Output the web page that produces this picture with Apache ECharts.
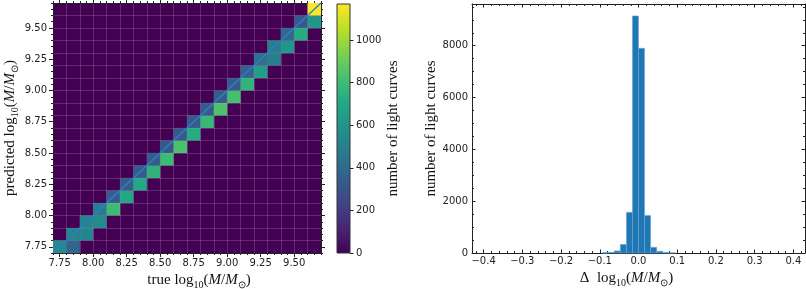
<!DOCTYPE html>
<html><head><meta charset="utf-8">
<script src="https://cdn.jsdelivr.net/npm/echarts@6/dist/echarts.min.js"></script>
<style>html,body{margin:0;padding:0;background:#fff;}#c{width:806px;height:289px;}</style>
</head><body><div id="c"></div>
<script>
// ---------- data ----------
const cellTrue = [7.7,7.8, 7.8,7.9, 7.9,8.0, 8.0,8.1, 8.1,8.2, 8.2,8.3, 8.3,8.4, 8.4,8.5, 8.5,8.6, 8.6,8.7,
                  8.7,8.8, 8.8,8.9, 8.9,9.0, 9.0,9.1, 9.1,9.2, 9.2,9.3, 9.3,9.4, 9.4,9.5, 9.5,9.6, 9.6];
const cellPred = [7.7,7.7, 7.8,7.8, 7.9,7.9, 8.0,8.0, 8.1,8.1, 8.2,8.2, 8.3,8.3, 8.4,8.4, 8.5,8.5, 8.6,8.6,
                  8.7,8.7, 8.8,8.8, 8.9,8.9, 9.0,9.0, 9.1,9.1, 9.2,9.2, 9.3,9.3, 9.4,9.4, 9.5,9.5, 9.6];
const cellCount = [550,390, 530,530, 520,550, 490,800, 340,700, 340,700, 330,750, 330,800, 320,830, 320,720,
                   330,780, 330,840, 330,820, 340,760, 360,650, 430,490, 490,610, 390,720, 320,610, 1170];
const cellSize = 0.1;
const heatMin = 7.7, heatMax = 9.7;
const heatTicks = [7.75, 8.00, 8.25, 8.50, 8.75, 9.00, 9.25, 9.50];
const diagLine = [[7.7, 7.7], [9.7, 9.7]];
const colorbarMax = 1170;
const colorbarTicks = [0, 200, 400, 600, 800, 1000];
const histCenters = [-0.0859, -0.0703, -0.0547, -0.0391, -0.0234, -0.0078, 0.0078, 0.0234, 0.0391, 0.0547, 0.0703, 0.0859];
const histCounts  = [10, 25, 80, 330, 1570, 9150, 7900, 1445, 220, 65, 20, 8];
const histBinWidth = 0.0156;
const histXMin = -0.43, histXMax = 0.43, histYMax = 9610;
const histXTicks = [-0.4, -0.3, -0.2, -0.1, 0.0, 0.1, 0.2, 0.3, 0.4];
const histYTicks = [0, 2000, 4000, 6000, 8000];

// ---------- styling / helpers ----------
const viridis = ['#440154','#482475','#414487','#355f8d','#2a788e','#21918c','#22a884','#44bf70','#7ad151','#bddf26','#fde725'];
const axisColor = '#222';
const tickFont = {fontFamily:'DejaVu Sans', fontSize:10, color:'#222'};
const nameRich = {
  r:{fontFamily:'Liberation Serif', fontSize:15, color:'#111', lineHeight:20, verticalAlign:'middle'},
  i:{fontFamily:'Liberation Serif', fontStyle:'italic', fontSize:15, color:'#111', lineHeight:20, verticalAlign:'middle'},
  s:{fontFamily:'Liberation Serif', fontSize:10, color:'#111', lineHeight:10, verticalAlign:'bottom'}
};
const plainName = {fontFamily:'Liberation Serif', fontSize:15, color:'#111'};

function r2(v){ return Math.round(v*1000)/1000; }
const heatMinor = [], heatEdges = [];
for (let k = 0; k <= 40; k++) { const v = r2(heatMin + 0.05*k); if (!heatTicks.some(t => Math.abs(t-v) < 1e-6)) heatMinor.push(v); }
for (let k = 0; k <= 20; k++) heatEdges.push(r2(heatMin + 0.1*k));
const histXMinor = [];
for (let k = -21; k <= 21; k++) { const v = r2(0.02*k); if (!histXTicks.some(t => Math.abs(t-v) < 1e-6)) histXMinor.push(v); }
const histYMinor = [];
for (let v = 500; v < histYMax; v += 500) if (!histYTicks.includes(v)) histYMinor.push(v);

function ax(o) {
  const a = {
    type:'value', gridIndex:o.grid, min:o.min, max:o.max, position:o.pos,
    axisLine:{show:!!o.line, onZero:false, lineStyle:{color:axisColor, width:1}},
    axisTick:{show:o.ticks !== undefined && !o.hideTicks, inside:!!o.inside, length:o.len || 3.5, customValues:o.ticks,
              lineStyle:{color:axisColor, width:1}},
    axisLabel:{show:!!o.labels, margin:o.margin, formatter:o.fmt, ...tickFont},
    splitLine:{show:!!o.split, customValues:o.split ? o.ticks : undefined, lineStyle:{color:'rgba(255,255,255,0.16)', width:1}},
    minorTick:{show:false}, minorSplitLine:{show:false}
  };
  if (o.labels) a.axisLabel.customValues = o.ticks;
  if (o.show === false) a.show = false;
  if (o.name) {
    a.name = o.name; a.nameLocation = 'middle'; a.nameGap = o.nameGap;
    if (o.nameRotate !== undefined) a.nameRotate = o.nameRotate;
    a.nameTextStyle = o.rich ? {rich:nameRich, padding:o.namePadding || 0} : Object.assign({padding:o.namePadding || 0}, plainName);
  }
  return a;
}
const massName = pre => '{r|' + pre + 'log}{s|10}{r|(}{i|M}{r|/}{i|M}{s|⊙}{r|)}';
const fmt2 = v => Number(v).toFixed(2);
const fmtHistX = v => (v < -1e-9 ? '\u2212' : '') + Math.abs(v).toFixed(1);

const xAxes = [
  ax({grid:0, min:heatMin, max:heatMax, pos:'bottom', line:true, ticks:heatTicks, len:4, labels:true, fmt:fmt2, margin:5,
      name:massName('true '), rich:true, nameGap:13, namePadding:[0,0,0,24]}),
  ax({grid:0, min:heatMin, max:heatMax, pos:'bottom', ticks:heatMinor, len:2}),
  ax({grid:0, min:heatMin, max:heatMax, pos:'top', line:true, ticks:heatTicks, len:4}),
  ax({grid:0, min:heatMin, max:heatMax, pos:'top', ticks:heatMinor, len:2}),
  ax({grid:0, min:heatMin, max:heatMax, pos:'bottom', ticks:heatEdges, hideTicks:true, split:true}),
  ax({grid:1, min:0, max:1, pos:'bottom', show:false}),
  ax({grid:2, min:histXMin, max:histXMax, pos:'bottom', line:true, ticks:histXTicks, inside:true, len:3.5, labels:true, fmt:fmtHistX, margin:3,
      name:massName('Δ  '), rich:true, nameGap:13, namePadding:[0,24,0,0]}),
  ax({grid:2, min:histXMin, max:histXMax, pos:'bottom', ticks:histXMinor, inside:true, len:2}),
  ax({grid:2, min:histXMin, max:histXMax, pos:'top', line:true, ticks:histXTicks, inside:true, len:3.5}),
  ax({grid:2, min:histXMin, max:histXMax, pos:'top', ticks:histXMinor, inside:true, len:2})
];
const yAxes = [
  ax({grid:0, min:heatMin, max:heatMax, pos:'left', line:true, ticks:heatTicks, len:4, labels:true, fmt:fmt2, margin:6,
      name:massName('predicted '), rich:true, nameGap:33, nameRotate:90}),
  ax({grid:0, min:heatMin, max:heatMax, pos:'left', ticks:heatMinor, len:2}),
  ax({grid:0, min:heatMin, max:heatMax, pos:'right', line:true, ticks:heatTicks, len:4}),
  ax({grid:0, min:heatMin, max:heatMax, pos:'right', ticks:heatMinor, len:2}),
  ax({grid:0, min:heatMin, max:heatMax, pos:'left', ticks:heatEdges, hideTicks:true, split:true}),
  ax({grid:1, min:0, max:colorbarMax, pos:'right', ticks:colorbarTicks, len:3.5, labels:true, fmt:v => String(v), margin:6,
      name:'number of light curves', nameGap:20, nameRotate:90}),
  ax({grid:2, min:0, max:histYMax, pos:'left', line:true, ticks:histYTicks, inside:true, len:3.5, labels:true, fmt:v => String(v), margin:4,
      name:'number of light curves', nameGap:28, nameRotate:90}),
  ax({grid:2, min:0, max:histYMax, pos:'left', ticks:histYMinor, inside:true, len:2}),
  ax({grid:2, min:0, max:histYMax, pos:'right', line:true, ticks:histYTicks, inside:true, len:3.5}),
  ax({grid:2, min:0, max:histYMax, pos:'right', ticks:histYMinor, inside:true, len:2})
];

const chart = echarts.init(document.getElementById('c'), null, {renderer:'canvas'});
chart.setOption({
  animation:false,
  backgroundColor:'#fff',
  grid:[
    {left:53, top:3, width:268, height:250, show:true, backgroundColor:'#440154', borderWidth:0, containLabel:false, outerBoundsMode:'none'},
    {left:337, top:4, width:13, height:249, containLabel:false, outerBoundsMode:'none'},
    {left:472, top:4, width:333, height:249, containLabel:false, outerBoundsMode:'none'}
  ],
  xAxis:xAxes,
  yAxis:yAxes,
  visualMap:[{type:'continuous', show:false, min:0, max:colorbarMax, dimension:2, seriesIndex:0, inRange:{color:viridis}}],
  series:[
    {
      type:'custom', xAxisIndex:0, yAxisIndex:0, z:2,
      data:cellTrue.map((t, i) => [t, cellPred[i], cellCount[i]]),
      encode:{x:0, y:1},
      renderItem:(params, api) => {
        const x0 = api.value(0), y0 = api.value(1);
        const p0 = api.coord([x0, y0]);
        const p1 = api.coord([x0 + cellSize, y0 + cellSize]);
        return {type:'rect', shape:{x:p0[0], y:p1[1], width:p1[0]-p0[0], height:p0[1]-p1[1]},
                style:{fill:api.visual('color'), stroke:'rgba(255,255,255,0.12)', lineWidth:0.6}};
      }
    },
    {
      type:'line', xAxisIndex:0, yAxisIndex:0, z:3, data:diagLine, symbol:'none',
      lineStyle:{color:'#2a80c8', width:1.4}
    },
    {
      type:'custom', xAxisIndex:5, yAxisIndex:5,
      data:[[0, colorbarMax]],
      renderItem:(params, api) => {
        const p0 = api.coord([0, 0]);
        const p1 = api.coord([1, api.value(1)]);
        return {type:'rect', shape:{x:p0[0], y:p1[1], width:p1[0]-p0[0], height:p0[1]-p1[1]},
                style:{fill:new echarts.graphic.LinearGradient(0, 1, 0, 0, viridis.map((c, i) => ({offset:i/(viridis.length-1), color:c}))),
                       stroke:'#333', lineWidth:1}};
      }
    },
    {
      type:'custom', xAxisIndex:6, yAxisIndex:6,
      data:histCenters.map((c, i) => [c, histCounts[i]]),
      encode:{x:0, y:1},
      renderItem:(params, api) => {
        const c = api.value(0);
        const p0 = api.coord([c - histBinWidth/2, 0]);
        const p1 = api.coord([c + histBinWidth/2, api.value(1)]);
        return {type:'rect', shape:{x:p0[0], y:p1[1], width:p1[0]-p0[0], height:p0[1]-p1[1]},
                style:{fill:'#1f77b4', stroke:'#6aa6d8', lineWidth:0.6}};
      }
    }
  ]
});
</script>
</body></html>
